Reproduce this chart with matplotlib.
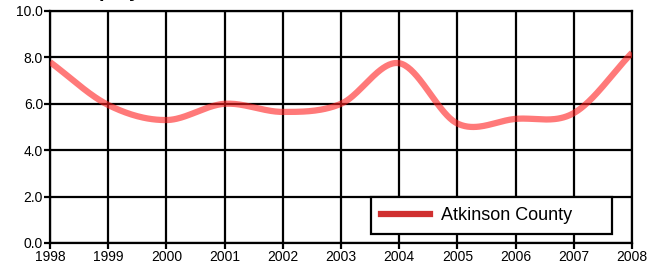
import numpy as np
import matplotlib.pyplot as plt

plt.rcParams['font.family'] = ['Liberation Sans', 'DejaVu Sans']

# data
years = [1998, 1999, 2000, 2001, 2002, 2003, 2004, 2005, 2006, 2007, 2008]
rate = [7.8, 5.95, 5.3, 6.0, 5.65, 6.0, 7.75, 5.15, 5.35, 5.6, 8.2]
county = "Atkinson County"
title = "Unemployment Rate"


def catmull_rom(x, y, n=40):
    x = np.asarray(x, float)
    y = np.asarray(y, float)
    # end tangents by one-sided difference
    m = np.zeros_like(y)
    m[1:-1] = (y[2:] - y[:-2]) / (x[2:] - x[:-2])
    m[0] = (y[1] - y[0]) / (x[1] - x[0])
    m[-1] = (y[-1] - y[-2]) / (x[-1] - x[-2])
    xs, ys = [], []
    for i in range(len(x) - 1):
        h = x[i + 1] - x[i]
        t = np.linspace(0, 1, n, endpoint=False)
        h00 = 2 * t**3 - 3 * t**2 + 1
        h10 = t**3 - 2 * t**2 + t
        h01 = -2 * t**3 + 3 * t**2
        h11 = t**3 - t**2
        xs.append(x[i] + t * h)
        ys.append(h00 * y[i] + h10 * h * m[i] + h01 * y[i + 1] + h11 * h * m[i + 1])
    xs.append([x[-1]])
    ys.append([y[-1]])
    return np.concatenate(xs), np.concatenate(ys)


fig = plt.figure(figsize=(6.58, 2.69), dpi=100)
ax = fig.add_axes([50 / 658, 1 - 243 / 269, 582 / 658, 232 / 269])

sx, sy = catmull_rom(years, rate)
ax.plot(sx, sy, color='#ff2020', alpha=0.6, linewidth=4.5, solid_capstyle='butt', zorder=3)
# legend swatch
ax.plot([], [], color='#d03030', linewidth=4.5, label=county + "      ")

ax.set_xlim(1998, 2008)
ax.set_ylim(0, 10)
ax.set_xticks(years)
ax.set_yticks(np.arange(0, 10.1, 2))
ax.set_yticklabels([f"{v:.1f}" for v in np.arange(0, 10.1, 2)])
ax.grid(True, color='black', linewidth=1.6)
ax.set_axisbelow(True)
for s in ax.spines.values():
    s.set_linewidth(1.6)
ax.tick_params(length=4, width=1.6, labelsize=10, pad=1)

leg = ax.legend(loc='lower right', bbox_to_anchor=((612 - 50) / 582, 9 / 232), fontsize=13,
                frameon=True, fancybox=False, edgecolor='black', framealpha=1,
                handlelength=2.7, handletextpad=0.6, borderpad=0.55, borderaxespad=0)
leg.get_frame().set_linewidth(1.6)

fig.text(43 / 658, 1 + 3 / 269, title, fontsize=14.5, fontweight='bold',
         ha='left', va='baseline')

fig.savefig('out.png', dpi=100)
